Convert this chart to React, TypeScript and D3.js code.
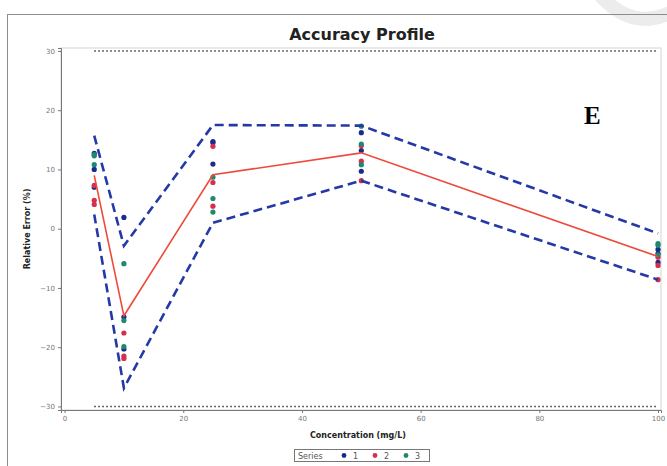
import React, { useRef, useEffect } from 'react';
import * as d3 from 'd3';

// concentrations (mg/L)
const concentrations = [5, 10, 25, 50, 100];

// relative error (%) per replicate, one array per series
const series1 = [
  [12.7, 10.0, 7.0],
  [1.9, -14.9, -20.3],
  [14.7, 14.5, 10.9],
  [16.2, 13.2, 9.7],
  [-3.5, -5.7, -4.2],
];
const series2 = [
  [7.3, 4.8, 4.1],
  [-17.6, -21.5, -21.9],
  [13.9, 7.8, 3.8],
  [14.0, 11.4, 8.1],
  [-6.2, -8.6, -4.8],
];
const series3 = [
  [12.3, 10.8, 12.5],
  [-5.9, -15.5, -19.9],
  [8.7, 5.1, 2.8],
  [17.3, 14.3, 10.8],
  [-2.5, -4.4, -2.8],
];

const meanError = [9.0, -14.7, 9.1, 12.8, -4.7];
const upperLimit = [15.7, -2.9, 17.5, 17.4, -0.8];
const lowerLimit = [2.4, -26.9, 1.0, 8.1, -8.6];
const acceptance = [30, -30];

const xTicks = [0, 20, 40, 60, 80, 100];
const yTicks = [-30, -20, -10, 0, 10, 20, 30];
const seriesNames = ['1', '2', '3'];
const seriesColors = ['#1b2a8c', '#d62f4b', '#1c8a6c'];

const App = () => {
  const ref = useRef(null);

  useEffect(() => {
    const width = 667;
    const height = 466;
    const svg = d3.select(ref.current);
    svg.selectAll('*').remove();
    svg.attr('width', width).attr('height', height);

    svg.append('rect').attr('width', width).attr('height', height).attr('fill', '#fff');

    // faint watermark in the corner
    svg
      .append('path')
      .attr('d', 'M600,-5 Q640,40 690,0')
      .attr('fill', 'none')
      .attr('stroke', '#ececec')
      .attr('stroke-width', 14);

    // outer frame
    svg
      .append('rect')
      .attr('x', 7.5)
      .attr('y', 14.5)
      .attr('width', 680)
      .attr('height', 470)
      .attr('fill', 'none')
      .attr('stroke', '#8c8c8c');

    const x = d3.scaleLinear().domain([-0.6, 100.5]).range([61, 661]);
    const y = d3.scaleLinear().domain([-30.6, 30.5]).range([410, 48]);

    // plot area frame
    svg
      .append('rect')
      .attr('x', 61)
      .attr('y', 48)
      .attr('width', 600)
      .attr('height', 362)
      .attr('fill', 'none')
      .attr('stroke', '#d4d4d4');

    // title
    svg
      .append('text')
      .attr('x', 362)
      .attr('y', 40)
      .attr('text-anchor', 'middle')
      .attr('font-family', 'DejaVu Sans, sans-serif')
      .attr('font-weight', 'bold')
      .attr('font-size', 16)
      .attr('fill', '#222')
      .text('Accuracy Profile');

    // axes
    svg
      .append('g')
      .attr('transform', 'translate(0, 410)')
      .call(d3.axisBottom(x).tickValues(xTicks).tickSize(3).tickPadding(3))
      .call((g) => g.select('.domain').attr('stroke', '#777'))
      .call((g) => g.selectAll('.tick line').attr('stroke', '#777'))
      .call((g) =>
        g
          .selectAll('text')
          .attr('fill', '#777')
          .attr('font-size', 7)
          .attr('font-family', 'DejaVu Sans, sans-serif')
      );

    svg
      .append('g')
      .attr('transform', 'translate(61, 0)')
      .call(d3.axisLeft(y).tickValues(yTicks).tickSize(3).tickPadding(3))
      .call((g) => g.select('.domain').attr('stroke', '#777'))
      .call((g) => g.selectAll('.tick line').attr('stroke', '#777'))
      .call((g) =>
        g
          .selectAll('text')
          .attr('fill', '#777')
          .attr('font-size', 7)
          .attr('font-family', 'DejaVu Sans, sans-serif')
      );

    svg
      .append('text')
      .attr('transform', 'translate(30, 229) rotate(-90)')
      .attr('text-anchor', 'middle')
      .attr('font-family', 'DejaVu Sans, sans-serif')
      .attr('font-weight', 'bold')
      .attr('font-size', 8)
      .attr('fill', '#222')
      .text('Relative Error (%)');

    svg
      .append('text')
      .attr('x', 358)
      .attr('y', 438)
      .attr('text-anchor', 'middle')
      .attr('font-family', 'DejaVu Sans, sans-serif')
      .attr('font-weight', 'bold')
      .attr('font-size', 8)
      .attr('fill', '#222')
      .text('Concentration (mg/L)');

    // acceptance limits
    acceptance.forEach((a) => {
      svg
        .append('line')
        .attr('x1', x(concentrations[0]))
        .attr('x2', x(concentrations[concentrations.length - 1]))
        .attr('y1', y(a))
        .attr('y2', y(a))
        .attr('stroke', '#444')
        .attr('stroke-width', 1.6)
        .attr('stroke-dasharray', '1.6,2.4');
    });

    const line = d3
      .line()
      .x((d) => x(d[0]))
      .y((d) => y(d[1]));

    // points
    [series1, series2, series3].forEach((s, i) => {
      s.forEach((reps, j) => {
        reps.forEach((v) => {
          svg
            .append('circle')
            .attr('cx', x(concentrations[j]))
            .attr('cy', y(v))
            .attr('r', 2.6)
            .attr('fill', seriesColors[i]);
        });
      });
    });

    [upperLimit, lowerLimit].forEach((lim) => {
      svg
        .append('path')
        .datum(concentrations.map((c, i) => [c, lim[i]]))
        .attr('fill', 'none')
        .attr('stroke', '#2439a6')
        .attr('stroke-width', 2.6)
        .attr('stroke-dasharray', '9,5')
        .attr('d', line);
    });

    svg
      .append('path')
      .datum(concentrations.map((c, i) => [c, meanError[i]]))
      .attr('fill', 'none')
      .attr('stroke', '#ee4a3c')
      .attr('stroke-width', 1.6)
      .attr('d', line);

    // panel letter
    svg
      .append('text')
      .attr('x', 584)
      .attr('y', 124)
      .attr('font-family', 'Liberation Serif, serif')
      .attr('font-weight', 'bold')
      .attr('font-size', 25)
      .attr('fill', '#000')
      .text('E');

    // legend
    const lg = svg.append('g').attr('transform', 'translate(294, 449)');
    lg.append('rect')
      .attr('x', 0.5)
      .attr('y', 0.5)
      .attr('width', 135)
      .attr('height', 12)
      .attr('fill', '#fff')
      .attr('stroke', '#777');
    lg.append('text')
      .attr('x', 4)
      .attr('y', 9.5)
      .attr('font-family', 'DejaVu Sans, sans-serif')
      .attr('font-size', 8)
      .attr('fill', '#555')
      .text('Series');
    seriesNames.forEach((n, i) => {
      const ox = 50 + i * 31;
      lg.append('circle').attr('cx', ox).attr('cy', 6.5).attr('r', 2.4).attr('fill', seriesColors[i]);
      lg.append('text')
        .attr('x', ox + 9)
        .attr('y', 9.5)
        .attr('font-family', 'DejaVu Sans, sans-serif')
        .attr('font-size', 8)
        .attr('fill', '#555')
        .text(n);
    });
  }, []);

  return <svg ref={ref} style={{ position: 'absolute', left: 0, top: 0 }}></svg>;
};

export default App;
